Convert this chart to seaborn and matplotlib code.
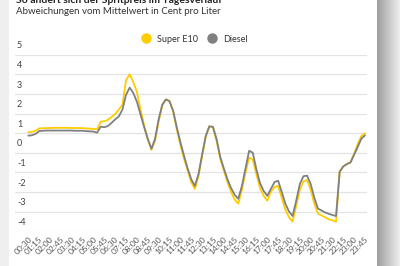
import numpy as np
import pandas as pd
import matplotlib
matplotlib.use("Agg")
import matplotlib.pyplot as plt
from matplotlib.lines import Line2D
import matplotlib.transforms as mtransforms
import seaborn as sns

title = "So ändert sich der Spritpreis im Tagesverlauf"
subtitle = "Abweichungen vom Mittelwert in Cent pro Liter"
series_names = ["Super E10", "Diesel"]
colors = ["#FFCC00", "#808080"]

# 15-minute steps, 00:30 ... 23:45
times = [f"{(30 + 15 * i) // 60:02d}:{(30 + 15 * i) % 60:02d}" for i in range(94)]

super_e10 = [
    1.04, 1.06, 1.12, 1.24, 1.25, 1.25, 1.26, 1.27, 1.27, 1.27,
    1.27, 1.27, 1.26, 1.26, 1.26, 1.25, 1.24, 1.23, 1.21, 1.20,
    1.58, 1.60, 1.68, 1.82, 1.98, 2.20, 2.45, 3.70, 4.00, 3.60,
    3.10, 2.20, 1.40, 0.70, 0.15, 0.60, 1.60, 2.40, 2.72, 2.65,
    2.10, 1.20, 0.40, -0.30, -0.90, -1.50, -1.85, -1.20, -0.20, 0.80,
    1.33, 1.30, 0.60, -0.30, -0.90, -1.50, -2.00, -2.40, -2.60, -1.90,
    -1.00, -0.25, -0.35, -1.10, -1.80, -2.20, -2.45, -2.00, -1.75, -1.70,
    -2.30, -2.90, -3.30, -3.52, -2.70, -1.90, -1.45, -1.40, -1.90, -2.60,
    -3.10, -3.20, -3.30, -3.40, -3.45, -3.52, -0.97, -0.70, -0.58, -0.48,
    -0.05, 0.45, 0.85, 0.99,
]
diesel = [
    0.87, 0.89, 0.96, 1.10, 1.12, 1.13, 1.13, 1.13, 1.13, 1.13,
    1.13, 1.13, 1.13, 1.12, 1.12, 1.12, 1.10, 1.09, 1.08, 1.02,
    1.33, 1.30, 1.36, 1.52, 1.70, 1.85, 2.20, 2.95, 3.32, 3.05,
    2.60, 1.95, 1.30, 0.70, 0.20, 0.70, 1.70, 2.45, 2.72, 2.62,
    2.15, 1.30, 0.55, -0.15, -0.80, -1.35, -1.70, -1.10, -0.10, 0.85,
    1.35, 1.32, 0.70, -0.20, -0.80, -1.35, -1.80, -2.15, -2.35, -1.70,
    -0.80, 0.10, 0.00, -0.85, -1.55, -1.95, -2.20, -1.85, -1.50, -1.43,
    -2.00, -2.60, -3.00, -3.23, -2.45, -1.60, -1.20, -1.17, -1.60, -2.30,
    -2.85, -2.95, -3.05, -3.12, -3.18, -3.23, -0.97, -0.70, -0.58, -0.50,
    -0.10, 0.30, 0.72, 0.88,
]
y_ticks = [5, 4, 3, 2, 1, 0, -1, -2, -3, -4]

df = pd.DataFrame({
    "pos": list(range(len(times))) * 2,
    "value": super_e10 + diesel,
    "series": [series_names[0]] * len(times) + [series_names[1]] * len(times),
})

sns.set_theme(style="white")
plt.rcParams["font.family"] = ["Lato", "DejaVu Sans"]

W, H = 400, 266
fig = plt.figure(figsize=(W / 100, H / 100), dpi=100)
fig.patch.set_facecolor("white")

# frame shadows of the screenshot
fig.patches.append(plt.Rectangle((0, 0), 9 / W, 1, transform=fig.transFigure,
                                 facecolor="#efefef", edgecolor="none", zorder=0))
sh = fig.add_axes([377 / W, 0, 23 / W, 1], zorder=0)
grad = np.linspace(0.62, 0.93, 64)[None, :]
sh.imshow(grad, aspect="auto", cmap="gray", vmin=0, vmax=1, extent=(0, 1, 0, 1))
sh.set_axis_off()

left_px, right_px = 15, 367
top_px, bot_px = 54.7, 231.1
ax = fig.add_axes([left_px / W, 1 - bot_px / H, (right_px - left_px) / W, (bot_px - top_px) / H])

sns.lineplot(data=df, x="pos", y="value", hue="series", hue_order=series_names,
             palette=colors, linewidth=1.3, ax=ax, legend=False)

px_per = (365 - 28.3) / 93
ax.set_xlim(-(28.3 - left_px) / px_per, 93 + (right_px - 365) / px_per)
ax.set_ylim(-4, 5)

for v in y_ticks:
    ax.axhline(v, color="#e3e3e3", linewidth=0.9, zorder=0)
for s in ax.spines.values():
    s.set_visible(False)

ax.set_yticks([])
ax.set_xlabel("")
ax.set_ylabel("")
tick_pos = list(range(0, len(times), 3))
ax.set_xticks(tick_pos)
ax.set_xticklabels([times[i] for i in tick_pos], rotation=45, ha="right", va="top",
                   rotation_mode="anchor", fontsize=6, color="#555555")
ax.tick_params(axis="x", length=0, pad=3)

tr = mtransforms.blended_transform_factory(ax.transAxes, ax.transData)
for v in y_ticks:
    ax.text(2 / (right_px - left_px), v + 0.22, str(v), transform=tr, ha="left", va="bottom",
            fontsize=6.5, color="#444444")

fig.text(16 / W, 1 - 3 / H, title, fontsize=7.5, fontweight="bold", color="#222222",
         ha="left", va="baseline")
fig.text(16 / W, 1 - 12 / H, subtitle, fontsize=7, color="#333333", ha="left", va="center")

handles = [Line2D([0], [0], marker="o", linestyle="none", markersize=6.5,
                  markerfacecolor=c, markeredgecolor=c) for c in colors]
fig.legend(handles, series_names, loc="center", bbox_to_anchor=(192 / W, 1 - 39 / H),
           ncol=2, frameon=False, fontsize=6.5, handletextpad=0.2, columnspacing=0.6,
           labelcolor="#333333")

fig.savefig("out.png", dpi=100)
